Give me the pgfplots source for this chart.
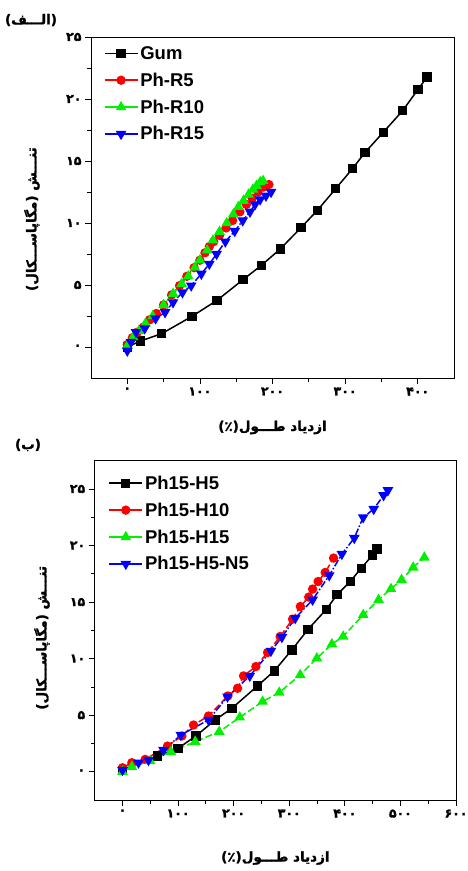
\documentclass[border=0pt]{standalone}
\usepackage{pgfplots}
\pgfplotsset{compat=1.18}
\usepackage{fontspec}
\setmainfont{Liberation Sans}
\newfontfamily\arabicfont[Script=Arabic, FakeBold=1.6]{DejaVu Sans}
\TeXXeTstate=1
\newcommand{\fd}[1]{{\arabicfont\bfseries #1}}
\definecolor{cgreen}{RGB}{0,240,0}
\pgfplotsset{
  myaxis/.style={
    scale only axis,
    anchor=north west,
    axis line style={black, line width=0.9pt},
    tick style={black, line width=0.8pt},
    tick align=outside,
    xtick pos=bottom, ytick pos=left,
    major tick length=6pt, minor tick length=3.5pt,
    minor tick num=1,
    ticklabel style={font=\fontsize{12.5}{14}\selectfont},
    ytick={0,5,10,15,20,25},
    yticklabels={\fd{۰},\fd{۵},\fd{۱۰},\fd{۱۵},\fd{۲۰},\fd{۲۵}},
    ymin=-2.5,
    legend cell align=left,
    legend style={draw=none, fill=none, font=\fontsize{18.5}{20}\selectfont\bfseries, row sep=8pt, inner sep=1pt},
    legend image code/.code={\draw[mark repeat=2,mark phase=2,solid] plot coordinates {(0cm,0cm) (0.58cm,0cm) (1.16cm,0cm)};},
    label style={font=\fontsize{13.5}{15}\selectfont},
  },
  sblack/.style={black, line width=1.5pt, mark=square*, mark size=3.9pt, mark options={solid}},
  sred/.style={red, line width=1.5pt, mark=*, mark size=3.9pt, mark options={solid}, dash pattern=on 7pt off 3pt},
  sgreen/.style={cgreen, line width=1.5pt, mark=triangle*, mark size=4.7pt, mark options={solid}, dash pattern=on 7pt off 3pt},
  sblue/.style={blue, line width=1.5pt, mark=triangle*, mark size=4.7pt, mark options={solid, rotate=180}, dash pattern=on 7pt off 2pt on 1.5pt off 2pt},
}
\begin{document}
\begin{tikzpicture}
\useasboundingbox (0,0) rectangle (468pt,-871pt);
\node[anchor=center, font=\fontsize{13.5}{15}\selectfont] at (31pt,-20pt) {\arabicfont\bfseries\beginR (الـــف)\endR};
\node[anchor=center, font=\fontsize{13.5}{15}\selectfont] at (28pt,-445pt) {\arabicfont\bfseries\beginR (ب)\endR};
\begin{axis}[myaxis,
  at={(91pt,-37pt)}, width=363pt, height=341pt,
  xmin=-50, xmax=450, ymax=25,
  xtick={0,100,200,300,400},
  xticklabels={\fd{۰},\fd{۱۰۰},\fd{۲۰۰},\fd{۳۰۰},\fd{۴۰۰}},
  xlabel={\arabicfont\bfseries\beginR ازدیاد طـــول(٪)\endR},
  ylabel={\arabicfont\bfseries\beginR تنـــش (مگاپاســـکال)\endR},
  xlabel style={at={(axis description cs:0.5,-0.145)}, anchor=center},
  ylabel style={at={(axis description cs:-0.163,0.466)}, anchor=center},
  legend style={at={(0.032,0.982)}, anchor=north west},
]
\addplot[sblack] coordinates {(0,0) (18,0.48) (47.5,1.08) (89,2.47) (123.5,3.76) (159.4,5.43) (184.8,6.59) (210.6,7.9) (239.2,9.62) (261.8,11.02) (287.1,12.77) (310.1,14.38) (327.6,15.7) (352.5,17.31) (379.3,19.06) (400.5,20.78) (412.9,21.77)};
\addlegendentry{Gum}
\addplot[sred] coordinates {(0,0.2) (7,0.75) (14,1.2) (22,1.6) (31,2.2) (40,2.7) (50,3.4) (61,4.2) (72,4.95) (82,5.7) (92,6.4) (100,7.0) (107,7.6) (113,8.1) (119,8.5) (127,9.0) (136,9.6) (145,10.2) (155,10.9) (164,11.5) (172,12.0) (180,12.5) (188,12.9) (195,13.1)};
\addlegendentry{Ph-R5}
\addplot[sgreen] coordinates {(0,0.1) (8,0.8) (16,1.3) (25,1.9) (35,2.5) (50,3.4) (63,4.3) (75,5.1) (84,5.7) (93,6.4) (100,7.0) (110,7.8) (118,8.6) (127,9.3) (137,10.0) (146,10.7) (153,11.3) (160,11.8) (167,12.3) (173,12.7) (178,13.0) (183,13.3) (187,13.4)};
\addlegendentry{Ph-R10}
\addplot[sblue] coordinates {(0,-0.3) (5,0.4) (12,1.2) (24,1.5) (39,2.3) (52,2.8) (63,3.6) (76,4.4) (88,4.95) (102,5.9) (113,6.7) (123,7.5) (135,8.5) (148,9.35) (159,10.2) (169,10.9) (176,11.5) (183,11.9) (191,12.2) (198,12.5)};
\addlegendentry{Ph-R15}
\end{axis}
\begin{axis}[myaxis,
  at={(94.7pt,-460.7pt)}, width=361.3pt, height=339.3pt,
  xmin=-50, xmax=600, ymax=27.5,
  xtick={0,100,200,300,400,500,600},
  xticklabels={\fd{۰},\fd{۱۰۰},\fd{۲۰۰},\fd{۳۰۰},\fd{۴۰۰},\fd{۵۰۰},\fd{۶۰۰}},
  xlabel={\arabicfont\bfseries\beginR ازدیاد طـــول(٪)\endR},
  ylabel={\arabicfont\bfseries\beginR تنـــش (مگاپاســـکال)\endR},
  xlabel style={at={(axis description cs:0.5,-0.171)}, anchor=center},
  ylabel style={at={(axis description cs:-0.146,0.478)}, anchor=center},
  legend style={at={(0.035,0.965)}, anchor=north west},
]
\addplot[sblack] coordinates {(0,0.1) (63,1.39) (100,2.07) (132,3.16) (166.8,4.58) (196.8,5.61) (243,7.59) (273,8.91) (304.7,10.77) (334,12.6) (367,14.37) (385.7,15.64) (409.7,16.82) (429.5,18.0) (450,19.16) (457.7,19.69)};
\addlegendentry{Ph15-H5}
\addplot[sred] coordinates {(0,0.35) (16.8,0.8) (40.8,1.09) (81,2.27) (106.8,3.16) (127.8,4.13) (154.8,4.93) (189.6,6.7) (207,7.38) (217.8,8.47) (240,9.3) (261,10.54) (283.7,11.96) (306,13.49) (320,14.61) (335,15.44) (342,16.15) (352,16.82) (364.7,17.62) (379.7,18.89)};
\addlegendentry{Ph15-H10}
\addplot[sgreen] coordinates {(0,0) (16.8,0.44) (49.8,0.94) (87,1.77) (130.8,2.66) (174,3.54) (211,4.81) (252,6.2) (282,7.0) (319.7,8.56) (349.7,10.04) (376.7,11.28) (397,11.96) (433,13.87) (460.7,15.2) (483,16.17) (502,16.97) (523,18.06) (543,18.95)};
\addlegendentry{Ph15-H15}
\addplot[sblue] coordinates {(0,0.15) (28.8,0.8) (46.8,1.03) (73.8,1.92) (105,3.25) (154.8,4.58) (189,6.64) (229,8.47) (267,10.68) (286.8,11.9) (310.8,13.58) (342,15.2) (372,17.36) (394.7,19.25) (417,20.66) (433,22.49) (452,23.23) (469.7,24.44) (477.5,24.88)};
\addlegendentry{Ph15-H5-N5}
\end{axis}
\end{tikzpicture}
\end{document}
